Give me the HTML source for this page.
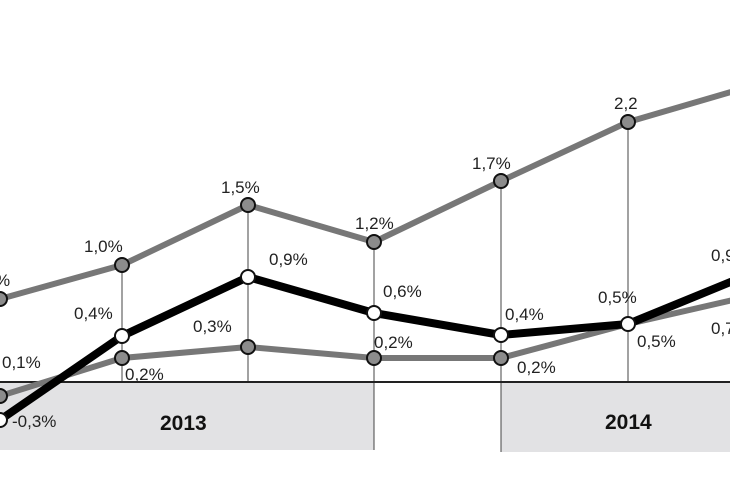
<!DOCTYPE html>
<html><head><style>body{margin:0;background:#fff}svg{display:block}</style></head><body>
<svg width="730" height="500" xmlns="http://www.w3.org/2000/svg" font-family="Liberation Sans, DejaVu Sans, sans-serif" font-size="17" fill="#222">
<rect x="0" y="383" width="374" height="67" fill="#e2e2e4"/>
<rect x="501" y="383" width="229" height="69" fill="#e2e2e4"/>
<g stroke="#444" stroke-width="1">
<line x1="122" y1="265" x2="122" y2="383"/>
<line x1="248" y1="205" x2="248" y2="383"/>
<line x1="374" y1="242" x2="374" y2="450"/>
<line x1="501" y1="181" x2="501" y2="452"/>
<line x1="628" y1="122" x2="628" y2="383"/>
</g>
<line x1="0" y1="382" x2="730" y2="382" stroke="#222" stroke-width="2"/>
<g fill="none" stroke-linejoin="round">
<polyline points="0,299 122,265 248,205 374,242 501,181 628,122 755,85" stroke="#777" stroke-width="6"/>
<polyline points="0,396 122,358 248,347 374,358 501,358 628,324 755,295" stroke="#777" stroke-width="6"/>
<polyline points="0,420 122,336 248,277 374,313 501,335 628,324 755,272" stroke="#000" stroke-width="8"/>
</g>
<g fill="#8c8c8c" stroke="#111" stroke-width="2">
<circle cx="0" cy="299" r="7"/><circle cx="122" cy="265" r="7"/><circle cx="248" cy="205" r="7"/><circle cx="374" cy="242" r="7"/><circle cx="501" cy="181" r="7"/><circle cx="628" cy="122" r="7"/>
<circle cx="0" cy="396" r="7"/><circle cx="122" cy="358" r="7"/><circle cx="248" cy="347" r="7"/><circle cx="374" cy="358" r="7"/><circle cx="501" cy="358" r="7"/>
</g>
<g fill="#fff" stroke="#111" stroke-width="2">
<circle cx="0" cy="420" r="7"/><circle cx="122" cy="336" r="7"/><circle cx="248" cy="277" r="7"/><circle cx="374" cy="313" r="7"/><circle cx="501" cy="335" r="7"/><circle cx="628" cy="324" r="7"/>
</g>
<g>
<text x="-5" y="286">%</text>
<text x="84" y="252">1,0%</text>
<text x="221" y="193">1,5%</text>
<text x="355" y="229">1,2%</text>
<text x="472" y="169">1,7%</text>
<text x="614" y="109">2,2</text>
<text x="74" y="319">0,4%</text>
<text x="269" y="265">0,9%</text>
<text x="383" y="297">0,6%</text>
<text x="505" y="320">0,4%</text>
<text x="598" y="303">0,5%</text>
<text x="711" y="261">0,9</text>
<text x="2" y="368">0,1%</text>
<text x="125" y="380">0,2%</text>
<text x="193" y="332">0,3%</text>
<text x="374" y="348">0,2%</text>
<text x="517" y="373">0,2%</text>
<text x="637" y="347">0,5%</text>
<text x="711" y="334">0,7</text>
<text x="12" y="427">-0,3%</text>
</g>
<g font-weight="bold" font-size="21" fill="#111">
<text x="160" y="430">2013</text>
<text x="605" y="429">2014</text>
</g>
</svg>
</body></html>
